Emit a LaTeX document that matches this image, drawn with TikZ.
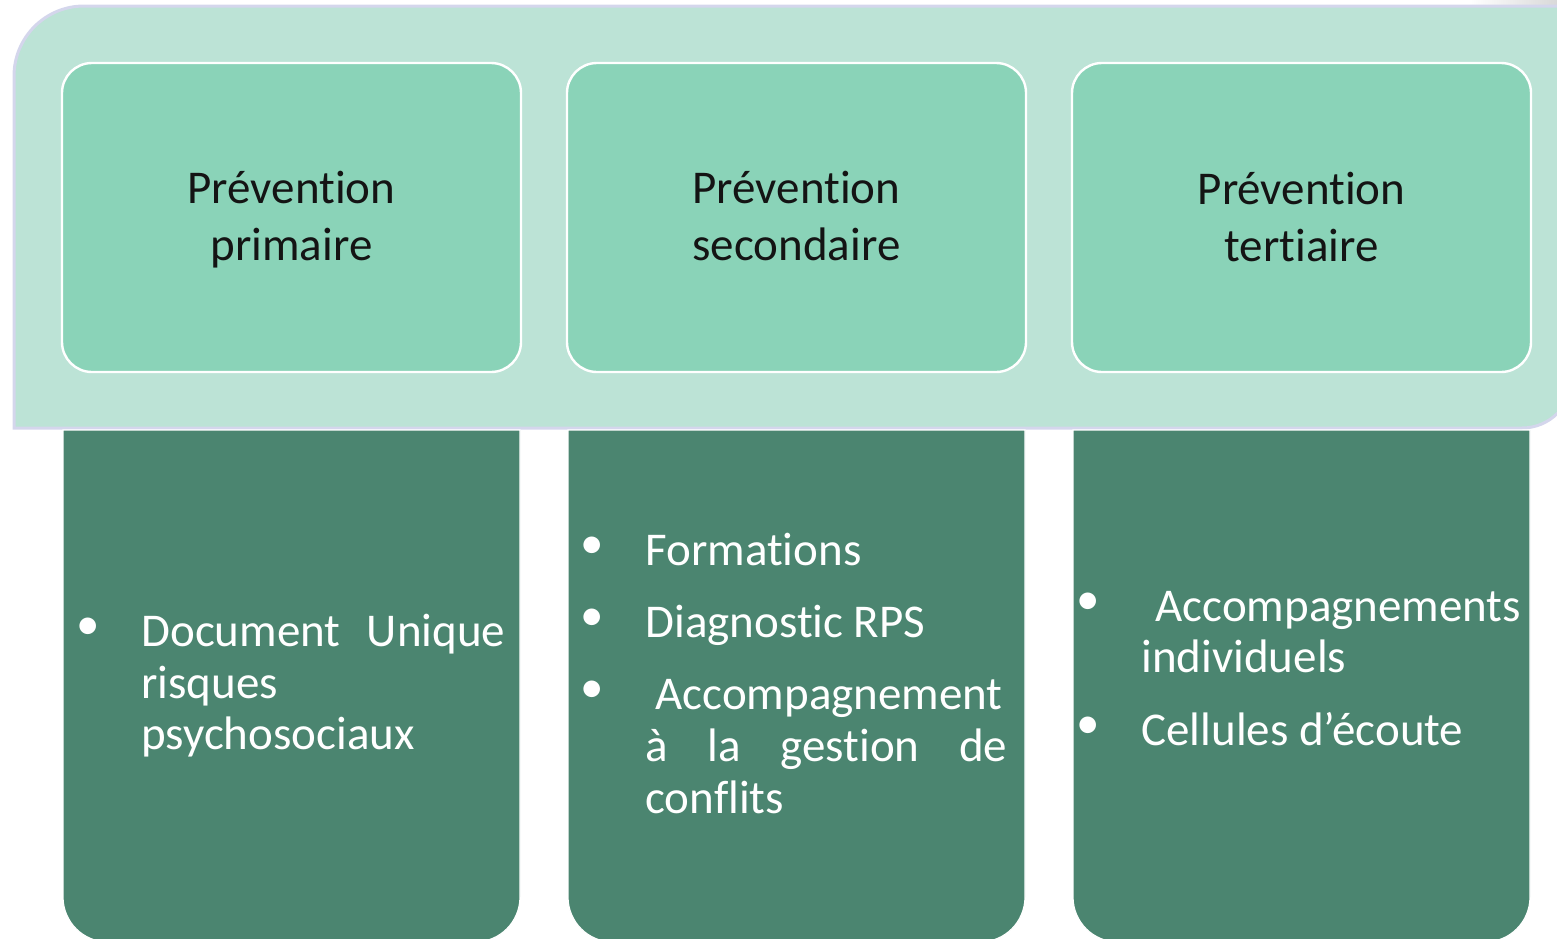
\documentclass[tikz,border=0pt]{standalone}
\usepackage{fontspec}
\setmainfont{Carlito}[Ligatures={NoCommon,NoContextual},Contextuals={NoAlternate}]
\begin{document}
\definecolor{bandfill}{RGB}{188,227,214}
\definecolor{bandline}{RGB}{212,214,236}
\definecolor{headfill}{RGB}{138,211,184}
\definecolor{bodyfill}{RGB}{75,133,112}
\definecolor{titletext}{RGB}{20,20,20}
\begin{tikzpicture}[x=0.5pt,y=-0.5pt,
  band/.style={fill=bandfill,draw=bandline,line width=1.5pt},
  headbox/.style={fill=headfill,draw=white,line width=1.2pt,rounded corners=15pt},
  bodybox/.style={fill=bodyfill,draw=white,line width=0.6pt},
  ttl/.style={anchor=base,inner sep=0pt,text=titletext,font=\fontsize{23.5}{28.5}\selectfont},
  txt/.style={anchor=base west,inner sep=0pt,text=white,font=\fontsize{23.5}{26.5}\selectfont},
  dot/.style={anchor=center,inner sep=0pt,text=white,font=\fontsize{23.5}{26.5}\selectfont}]
\useasboundingbox (0,0) rectangle (1557,938);
\begin{scope}
\clip (0,0) rectangle (1557,938);
% faint shape peeking out behind the band, top right
\shade[left color=white,right color=black!15] (1470,0) rectangle (1557,8);
% background band: rounded top left and bottom right (y axis points down)
\draw[band] (14,428) -- (14,76) arc[start angle=180,end angle=270,radius=70]
  -- (1572,6) -- (1572,378) arc[start angle=0,end angle=90,radius=50] -- cycle;
% lower content panels, rounded at the bottom only
\foreach \l/\r in {63/520,568/1025,1073/1530}{
  \draw[bodybox] (\l,430) -- (\l,897) arc[start angle=180,end angle=90,radius=45]
    -- ({\r-45},942) arc[start angle=90,end angle=0,radius=45] -- (\r,430) -- cycle;
}
\end{scope}
% heading boxes
\node[headbox,minimum width=229.5pt,minimum height=154.5pt] (h1) at (291.5,217.5) {};
\node[headbox,minimum width=229.5pt,minimum height=154.5pt] (h2) at (796.5,217.5) {};
\node[headbox,minimum width=229.5pt,minimum height=154.5pt] (h3) at (1301.5,217.5) {};
% headings
\node[ttl] (t1a) at (291.5,203) {Prévention};
\node[ttl] (t1b) at (291.5,260) {primaire};
\node[ttl] (t2a) at (796.5,203) {Prévention};
\node[ttl] (t2b) at (796.5,260) {secondaire};
\node[ttl] (t3a) at (1301.5,204) {Prévention};
\node[ttl] (t3b) at (1301.5,261) {tertiaire};
% first column
\node[dot] (d11) at (88,629) {•};
\node[txt] (l11) at (141,646) {\makebox[182pt][s]{Document Unique}};
\node[txt] (l12) at (141,698) {risques};
\node[txt] (l13) at (141,749) {psychosociaux};
% second column
\node[dot] (d21) at (592,548) {•};
\node[txt] (l21) at (645,565) {Formations};
\node[dot] (d22) at (592,620) {•};
\node[txt] (l22) at (645,637) {Diagnostic RPS};
\node[dot] (d23) at (592,692) {•};
\node[txt] (l23) at (655,709) {Accompagnement};
\node[txt] (l24) at (645,761) {\makebox[181pt][s]{à la gestion de}};
\node[txt] (l25) at (645,813) {conflits};
% third column
\node[dot] (d31) at (1088,604) {•};
\node[txt] (l31) at (1155,621) {Accompagnements};
\node[txt] (l32) at (1141,672) {individuels};
\node[dot] (d32) at (1088,728) {•};
\node[txt] (l33) at (1141,745) {Cellules d’écoute};
\end{tikzpicture}
\end{document}
